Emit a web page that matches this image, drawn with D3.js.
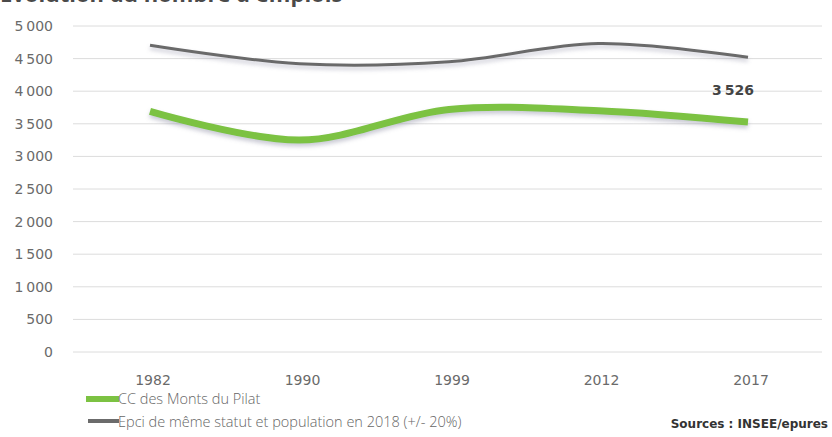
<!DOCTYPE html>
<html>
<head>
<meta charset="utf-8"/>
<title>Population CC des Monts du Pilat</title>
<script src="https://d3js.org/d3.v7.min.js"></script>
<style>
    body { margin: 0; background: #fff; }
    svg { font-family: "DejaVu Sans", sans-serif; }
    .grid line { stroke: #dcdcdc; stroke-width: 1; }
    .tick-y { fill: #6a6a6a; font-size: 14px; }
    .tick-x { fill: #6a6a6a; font-size: 14px; }
    .legend { fill: #666; font-size: 14.5px; font-family: "Open Sans", sans-serif; font-weight: 300; }
</style>
</head>
<body>
<div id="chart"></div>
<script>
    // data
    var years = ["1982", "1990", "1999", "2012", "2017"];
    var pilat = [3690, 3250, 3720, 3700, 3526];
    var epci = [4705, 4420, 4450, 4730, 4520];
    var yTicks = [0, 500, 1000, 1500, 2000, 2500, 3000, 3500, 4000, 4500, 5000];
    var seriesNames = ["CC des Monts du Pilat", "Epci de même statut et population en 2018 (+/- 20%)"];

    var width = 832, height = 437;
    var fmt = function(v){ return d3.format(",")(v).replace(/,/g, "\u2009"); };

    var svg = d3.select("#chart").append("svg")
        .attr("width", width)
        .attr("height", height);

    var defs = svg.append("defs");
    var shadow = defs.append("filter").attr("id", "shadow")
        .attr("x", "-10%").attr("y", "-50%").attr("width", "120%").attr("height", "200%");
    shadow.append("feDropShadow")
        .attr("dx", 0).attr("dy", 3).attr("stdDeviation", 2)
        .attr("flood-color", "#8a8aa0").attr("flood-opacity", 0.45);

    // title, cut off by the top edge as in the source
    svg.append("text")
        .attr("x", 0).attr("y", 2)
        .style("font-family", "'Open Sans', sans-serif")
        .style("font-weight", 700).style("font-size", "22px")
        .style("fill", "#4a4a4a")
        .text("Évolution du nombre d'emplois");

    var x = d3.scalePoint().domain(years).range([150, 748]);
    var y = d3.scaleLinear().domain([0, 5000]).range([352, 26]);

    svg.append("g").attr("class", "grid")
        .selectAll("line").data(yTicks).enter().append("line")
        .attr("x1", 73).attr("x2", 822)
        .attr("y1", function(d){ return y(d); })
        .attr("y2", function(d){ return y(d); });

    svg.append("g").selectAll("text").data(yTicks).enter().append("text")
        .attr("class", "tick-y")
        .attr("x", 53)
        .attr("y", function(d){ return y(d) + 5; })
        .attr("text-anchor", "end")
        .text(function(d){ return fmt(d); });

    svg.append("g").selectAll("text").data(years).enter().append("text")
        .attr("class", "tick-x")
        .attr("x", function(d){ return x(d) + 3; })
        .attr("y", 385)
        .attr("text-anchor", "middle")
        .text(function(d){ return d; });

    var line = d3.line()
        .x(function(d, i){ return x(years[i]); })
        .y(function(d){ return y(d); })
        .curve(d3.curveCatmullRom.alpha(0.5));

    svg.append("path")
        .attr("d", line(epci))
        .attr("fill", "none")
        .attr("stroke", "#6b6b6b")
        .attr("stroke-width", 3)
        .attr("filter", "url(#shadow)");

    svg.append("path")
        .attr("d", line(pilat))
        .attr("fill", "none")
        .attr("stroke", "#7cc242")
        .attr("stroke-width", 7)
        .attr("filter", "url(#shadow)");

    svg.append("text")
        .attr("x", x("2017") - 15)
        .attr("y", 95)
        .attr("text-anchor", "middle")
        .style("font-weight", 700).style("font-size", "14px")
        .style("fill", "#444")
        .text(fmt(pilat[4]));

    // legend
    var legend = svg.append("g");
    legend.append("line")
        .attr("x1", 86).attr("x2", 119).attr("y1", 399).attr("y2", 399)
        .attr("stroke", "#7cc242").attr("stroke-width", 6);
    legend.append("text").attr("class", "legend")
        .attr("x", 118).attr("y", 404).text(seriesNames[0]);
    legend.append("line")
        .attr("x1", 88).attr("x2", 119).attr("y1", 421).attr("y2", 421)
        .attr("stroke", "#6b6b6b").attr("stroke-width", 4);
    legend.append("text").attr("class", "legend")
        .attr("x", 118).attr("y", 427).text(seriesNames[1]);

    svg.append("text")
        .attr("x", 828).attr("y", 428)
        .attr("text-anchor", "end")
        .style("font-weight", 700).style("font-size", "12px")
        .style("fill", "#333")
        .text("Sources : INSEE/epures");
</script>
</body>
</html>
